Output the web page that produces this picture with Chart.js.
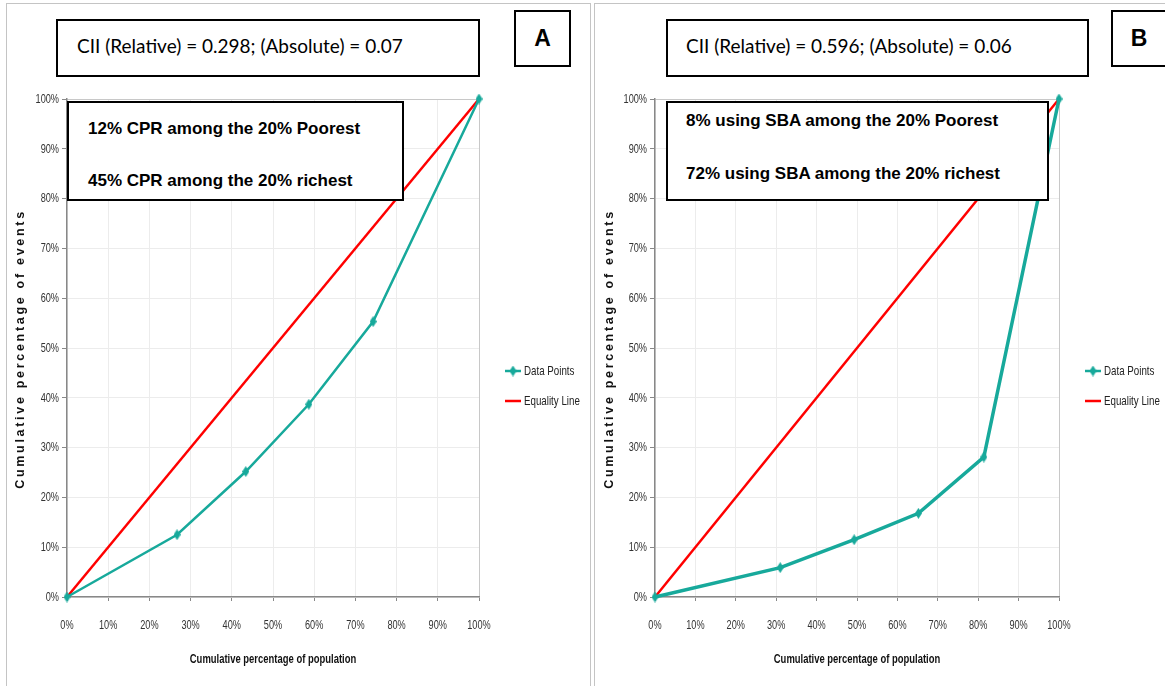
<!DOCTYPE html>
<html>
<head>
<meta charset="utf-8">
<script src="https://cdn.jsdelivr.net/npm/chart.js@4.4.1/dist/chart.umd.min.js"></script>
<style>
    body {
        margin: 0;
        background: #fff;
        width: 1165px;
        height: 686px;
        overflow: hidden;
        position: relative;
        font-family: "Liberation Sans", Arial, sans-serif;
    }
    .panel {
        position: absolute;
        top: 3px;
        height: 700px;
        border: 1px solid #c4c4c4;
        border-bottom: none;
    }
    canvas {
        position: absolute;
        top: 90px;
    }
    .box {
        position: absolute;
        background: #fff;
        border: 2px solid #000;
        box-sizing: border-box;
    }
    .cii {
        font-family: Lato, "Open Sans", sans-serif;
        font-size: 19px;
        line-height: 50px;
        color: #000;
        white-space: nowrap;
    }
    .letter {
        font-weight: bold;
        font-size: 23px;
        text-align: center;
        line-height: 53px;
    }
    .note span {
        position: absolute;
        font-weight: bold;
        font-size: 17px;
        white-space: nowrap;
        line-height: 20px;
    }
    .ytitle {
        position: absolute;
        width: 320px;
        text-align: center;
        font-family: "Liberation Sans", sans-serif;
        font-weight: bold;
        font-size: 12.5px;
        letter-spacing: 2.7px;
        transform: rotate(-90deg);
        white-space: nowrap;
        color: #111;
    }
</style>
</head>
<body>
<div class="panel" style="left:6px; width:583px;"></div>
<div class="panel" style="left:594px; width:600px;"></div>

<canvas id="chartA" width="590" height="596" style="left:0px;"></canvas>
<canvas id="chartB" width="575" height="596" style="left:590px;"></canvas>

<div class="box cii" style="left:56px; top:19px; width:424px; height:58px; padding-left:19px;">CII (Relative) = 0.298; (Absolute) = 0.07</div>
<div class="box letter" style="left:514px; top:10px; width:57px; height:57px;">A</div>
<div class="box note" style="left:67px; top:101px; width:337px; height:100px;">
    <span style="left:19px; top:16px;">12% CPR among the 20% Poorest</span>
    <span style="left:19px; top:68px;">45% CPR among the 20% richest</span>
</div>
<div class="ytitle" style="left:-140px; top:342px;">Cumulative percentage of events</div>

<div class="box cii" style="left:666px; top:19px; width:423px; height:58px; padding-left:18px;">CII (Relative) = 0.596; (Absolute) = 0.06</div>
<div class="box letter" style="left:1111px; top:10px; width:56px; height:57px;">B</div>
<div class="box note" style="left:666px; top:101px; width:383px; height:100px;">
    <span style="left:18px; top:8px;">8% using SBA among the 20% Poorest</span>
    <span style="left:18px; top:61px;">72% using SBA among the 20% richest</span>
</div>
<div class="ytitle" style="left:449px; top:342px;">Cumulative percentage of events</div>

<script>
// panel A: contraceptive prevalence (CPR)
const popA = [0, 26.7, 43.4, 58.7, 74.3, 100];
const eventsA = [0, 12.5, 25.2, 38.7, 55.3, 100];

// panel B: skilled birth attendance (SBA)
const popB = [0, 31, 49.3, 65.2, 81.4, 100];
const eventsB = [0, 5.9, 11.5, 16.8, 28.1, 100];

// line of perfect equality
const equalityPop = [0, 100];
const equalityEvents = [0, 100];

const xTicks = [0, 10, 20, 30, 40, 50, 60, 70, 80, 90, 100];
const yTicks = [0, 10, 20, 30, 40, 50, 60, 70, 80, 90, 100];
const xTitle = "Cumulative percentage of population";

const TEAL = "#17a99b";
const RED = "#ff0000";
const FONT = '"Liberation Sans", Arial, sans-serif';

// small elongated diamond like the excel marker
const marker = document.createElement("canvas");
marker.width = 7;
marker.height = 11;
(function () {
    const c = marker.getContext("2d");
    c.fillStyle = TEAL;
    c.beginPath();
    c.moveTo(3.5, 0);
    c.lineTo(7, 5.5);
    c.lineTo(3.5, 11);
    c.lineTo(0, 5.5);
    c.closePath();
    c.fill();
})();

// no narrow font installed, so squeeze the text horizontally
function narrowText(ctx, text, x, y, align, font, sx, color) {
    ctx.save();
    ctx.translate(x, y);
    ctx.scale(sx, 1);
    ctx.font = font;
    ctx.fillStyle = color;
    ctx.textAlign = align;
    ctx.textBaseline = "middle";
    ctx.fillText(text, 0, 0);
    ctx.restore();
}

const axisText = {
    id: "axisText",
    afterDraw(chart) {
        const {ctx, chartArea} = chart;
        const xs = chart.scales.x;
        const ys = chart.scales.y;
        const tickFont = "13.5px " + FONT;
        xTicks.forEach(v => {
            narrowText(ctx, v + "%", xs.getPixelForValue(v), chartArea.bottom + 28, "center", tickFont, 0.68, "#333");
        });
        yTicks.forEach(v => {
            narrowText(ctx, v + "%", chartArea.left - 8, ys.getPixelForValue(v), "right", tickFont, 0.68, "#333");
        });
        narrowText(ctx, xTitle, (chartArea.left + chartArea.right) / 2, chartArea.bottom + 62, "center",
            "bold 13.5px " + FONT, 0.7, "#111");
    }
};

const sideLegend = {
    id: "sideLegend",
    afterDraw(chart) {
        const {ctx, chartArea} = chart;
        const x0 = chartArea.right + 26;
        const ys = [chartArea.top + 272, chartArea.top + 302];
        chart.data.datasets.forEach((ds, i) => {
            ctx.save();
            ctx.strokeStyle = ds.borderColor;
            ctx.lineWidth = 2.5;
            ctx.beginPath();
            ctx.moveTo(x0, ys[i]);
            ctx.lineTo(x0 + 16, ys[i]);
            ctx.stroke();
            if (ds.pointRadius) {
                ctx.drawImage(marker, x0 + 8 - 3.5, ys[i] - 5.5);
            }
            ctx.restore();
            narrowText(ctx, ds.label, x0 + 19, ys[i], "left", "13px " + FONT, 0.75, "#222");
        });
    }
};

function toPoints(xs, ys) {
    return xs.map((x, i) => ({x: x, y: ys[i]}));
}

function makeChart(id, pop, events, lineWidth, yAxisWidth, rightPad) {
    return new Chart(document.getElementById(id), {
        type: "line",
        data: {
            datasets: [{
                label: "Data Points",
                data: toPoints(pop, events),
                borderColor: TEAL,
                backgroundColor: TEAL,
                borderWidth: lineWidth,
                pointStyle: marker,
                pointRadius: 5,
                tension: 0,
                clip: false
            }, {
                label: "Equality Line",
                data: toPoints(equalityPop, equalityEvents),
                borderColor: RED,
                backgroundColor: RED,
                borderWidth: 2.5,
                pointRadius: 0,
                tension: 0,
                clip: false
            }]
        },
        options: {
            responsive: false,
            animation: false,
            layout: {padding: {left: 0, right: rightPad, top: 9, bottom: 0}},
            plugins: {legend: {display: false}, tooltip: {enabled: false}},
            scales: {
                x: {
                    type: "linear",
                    min: 0,
                    max: 100,
                    afterBuildTicks: s => { s.ticks = xTicks.map(v => ({value: v})); },
                    afterFit: s => { s.height = 89; },
                    ticks: {display: false},
                    grid: {
                        color: ctx => ctx.tick && ctx.tick.value === 100 ? "#c8c8c8" : "#ececec",
                        tickColor: "#888",
                        tickLength: 4
                    },
                    border: {color: "#888", width: 1.5}
                },
                y: {
                    type: "linear",
                    min: 0,
                    max: 100,
                    afterBuildTicks: s => { s.ticks = yTicks.map(v => ({value: v})); },
                    afterFit: s => { s.width = yAxisWidth; },
                    ticks: {display: false},
                    grid: {
                        color: ctx => ctx.tick && ctx.tick.value === 100 ? "#c8c8c8" : "#ececec",
                        tickColor: "#888",
                        tickLength: 5
                    },
                    border: {color: "#888", width: 1.5}
                }
            }
        },
        plugins: [axisText, sideLegend]
    });
}

makeChart("chartA", popA, eventsA, 2.5, 67, 111);
makeChart("chartB", popB, eventsB, 3.5, 65, 106);
</script>
</body>
</html>
